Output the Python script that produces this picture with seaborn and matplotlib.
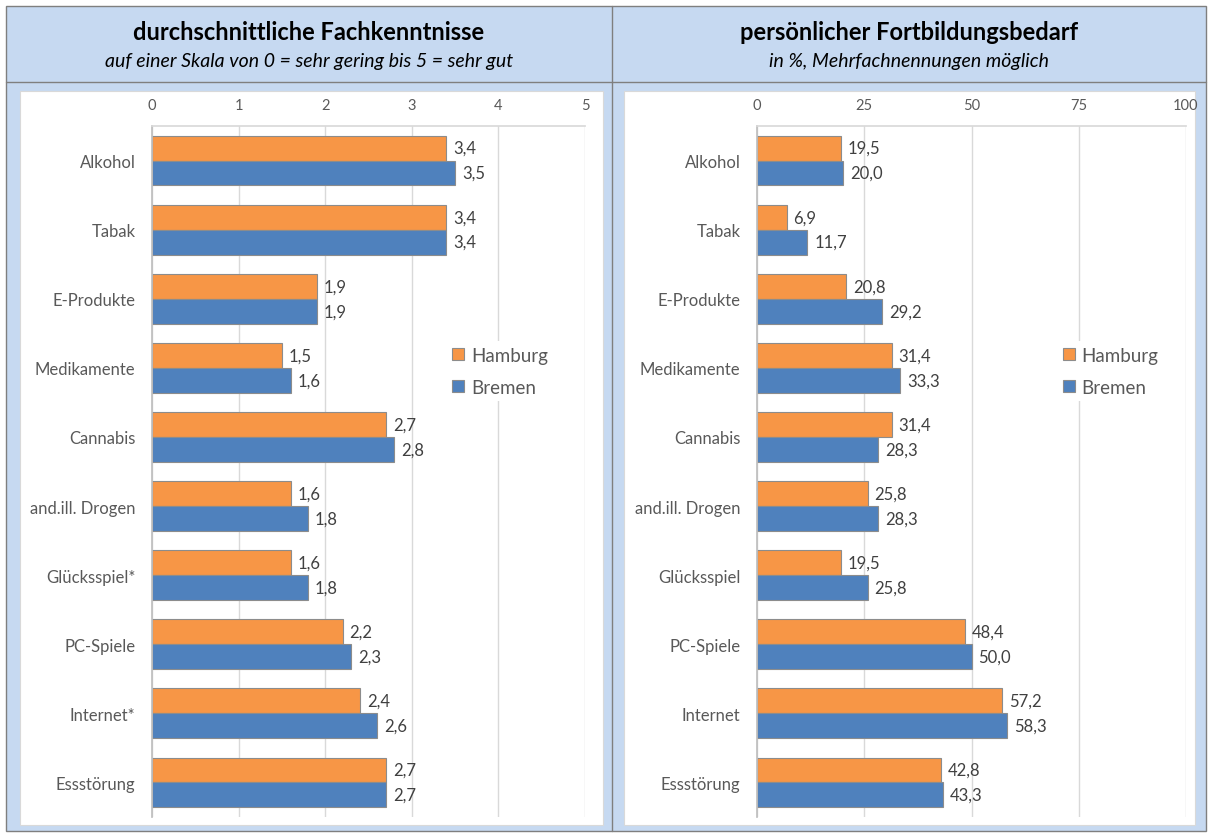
import matplotlib
matplotlib.use("Agg")
import matplotlib.pyplot as plt
import seaborn as sns
import pandas as pd
from matplotlib.patches import Rectangle
from matplotlib.lines import Line2D

sns.set_theme(style="white")
plt.rcParams['font.family'] = ['Lato', 'DejaVu Sans']

cats_left = ["Alkohol", "Tabak", "E-Produkte", "Medikamente", "Cannabis",
             "and.ill. Drogen", "Glücksspiel*", "PC-Spiele", "Internet*", "Essstörung"]
cats_right = ["Alkohol", "Tabak", "E-Produkte", "Medikamente", "Cannabis",
              "and.ill. Drogen", "Glücksspiel", "PC-Spiele", "Internet", "Essstörung"]
series = ["Hamburg", "Bremen"]

left_hamburg = [3.4, 3.4, 1.9, 1.5, 2.7, 1.6, 1.6, 2.2, 2.4, 2.7]
left_bremen = [3.5, 3.4, 1.9, 1.6, 2.8, 1.8, 1.8, 2.3, 2.6, 2.7]
right_hamburg = [19.5, 6.9, 20.8, 31.4, 31.4, 25.8, 19.5, 48.4, 57.2, 42.8]
right_bremen = [20.0, 11.7, 29.2, 33.3, 28.3, 28.3, 25.8, 50.0, 58.3, 43.3]

left_ticks = [0, 1, 2, 3, 4, 5]
right_ticks = [0, 25, 50, 75, 100]

titles = ["durchschnittliche Fachkenntnisse", "persönlicher Fortbildungsbedarf"]
subtitles = ["auf einer Skala von 0 = sehr gering bis 5 = sehr gut",
             "in %, Mehrfachnennungen möglich"]

colors = {"Hamburg": "#F79646", "Bremen": "#4F81BD"}
BG = "#C6D9F1"
LINE = "#7F7F7F"

W, H = 1210, 837
fig = plt.figure(figsize=(W / 100, H / 100), dpi=100)
fig.patch.set_facecolor("white")

def px_rect(x0, y0, x1, y1, **kw):
    fig.patches.append(Rectangle((x0 / W, 1 - y1 / H), (x1 - x0) / W, (y1 - y0) / H,
                                 transform=fig.transFigure, figure=fig, **kw))

def px_line(x0, y0, x1, y1, **kw):
    fig.lines.append(Line2D([x0 / W, x1 / W], [1 - y0 / H, 1 - y1 / H],
                            transform=fig.transFigure, figure=fig, **kw))

# background
px_rect(6, 7, 1206, 832, facecolor=BG, edgecolor="none", zorder=0)
px_rect(20, 92, 603, 826, facecolor="white", edgecolor="#D9D9D9", lw=0.8, zorder=0.5)
px_rect(624, 92, 1195, 826, facecolor="white", edgecolor="#D9D9D9", lw=0.8, zorder=0.5)
px_line(6, 83, 1206, 83, color=LINE, lw=1.0)
px_line(612, 7, 612, 832, color=LINE, lw=1.0)
px_rect(6, 7, 1206, 832, facecolor="none", edgecolor=LINE, lw=1.0, zorder=3)

# titles
for cx, t, s in [(309, titles[0], subtitles[0]), (909, titles[1], subtitles[1])]:
    fig.text(cx / W, 1 - 32 / H, t, ha="center", va="center", fontsize=17,
             fontweight="bold", color="#000000")
    fig.text(cx / W, 1 - 62 / H, s, ha="center", va="center", fontsize=14,
             fontstyle="italic", color="#000000")

def make_panel(rect, cats, hv, bv, ticks, xmax, legend_x):
    ax = fig.add_axes(rect)
    ax.set_zorder(5)
    df = pd.DataFrame({
        "cat": cats + cats,
        "val": hv + bv,
        "city": [series[0]] * len(cats) + [series[1]] * len(cats),
    })
    sns.barplot(data=df, y="cat", x="val", hue="city", hue_order=series,
                order=cats, palette=colors, orient="h", width=0.72, saturation=1,
                edgecolor="#8C8C8C", linewidth=0.8, ax=ax, zorder=2)
    ax.set_facecolor("white")
    ax.set_xlim(0, xmax)
    ax.set_ylim(len(cats) - 0.5, -0.5)
    ax.set_xticks(ticks)
    ax.set_xticklabels([str(t) for t in ticks])
    ax.xaxis.tick_top()
    ax.tick_params(axis="x", length=0, pad=10, labelsize=10.5, labelcolor="#595959")
    ax.tick_params(axis="y", length=0, pad=12, labelsize=12, labelcolor="#595959")
    ax.set_xlabel("")
    ax.set_ylabel("")
    ax.grid(axis="x", color="#D9D9D9", lw=1.0, zorder=0)
    ax.set_axisbelow(True)
    for sp in ["right", "bottom"]:
        ax.spines[sp].set_visible(False)
    ax.spines["top"].set_color("#D9D9D9")
    ax.spines["left"].set_color("#BFBFBF")
    for c in ax.containers:
        ax.bar_label(c, labels=[f"{v:.1f}".replace(".", ",") for v in c.datavalues],
                     padding=5, fontsize=12, color="#404040")
    leg = ax.legend(loc="center left", bbox_to_anchor=(legend_x, 0.645), frameon=True,
                    fontsize=13.5, handlelength=0.65, handleheight=0.65,
                    handletextpad=0.35, labelspacing=0.8, labelcolor="#595959",
                    borderpad=0.3, borderaxespad=0.0)
    leg.get_frame().set_facecolor("white")
    leg.get_frame().set_edgecolor("none")
    leg.get_frame().set_alpha(1)
    return ax

make_panel([152 / W, 1 - 818 / H, 433 / W, 691 / H], cats_left, left_hamburg,
           left_bremen, left_ticks, 5, 0.68)
make_panel([757 / W, 1 - 818 / H, 429 / W, 691 / H], cats_right, right_hamburg,
           right_bremen, right_ticks, 100, 0.70)

fig.savefig("out.png", dpi=100, facecolor="white")
